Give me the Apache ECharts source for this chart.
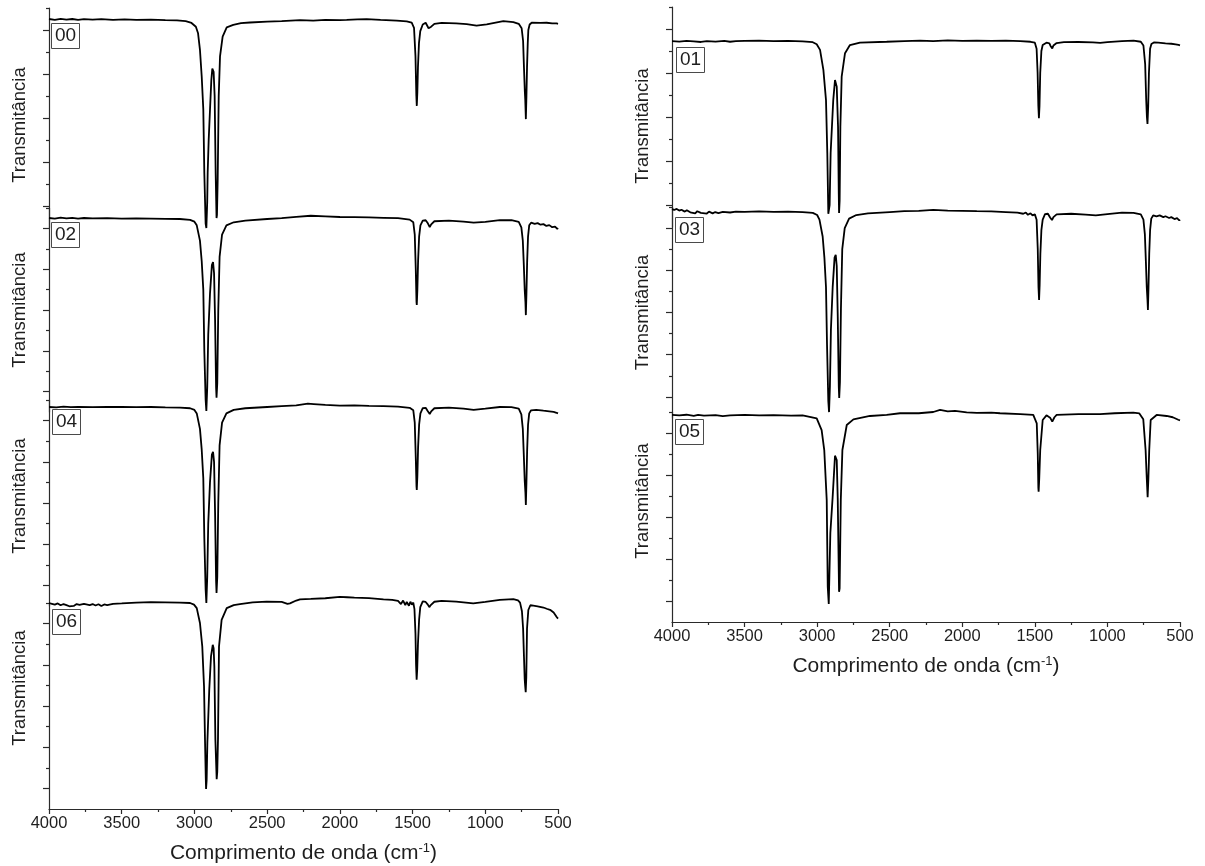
<!DOCTYPE html>
<html>
<head>
<meta charset="utf-8">
<title>FTIR</title>
<script src="https://cdn.jsdelivr.net/npm/echarts@6/dist/echarts.min.js"></script>
<style>
  html, body { margin: 0; padding: 0; background: #fff; }
  #chart { width: 1205px; height: 866px; }
</style>
</head>
<body>
<div id="chart"></div>
<script>
// FTIR spectra, [wavenumber (cm-1), relative transmittance] per sample.
// Transmittance is in arbitrary units (0 = bottom of a sample's panel, 100 = top).
const spec00 = [[4000,95.0],[3960,94.6],[3920,95.1],[3880,94.7],[3840,95.0],[3800,94.6],[3760,94.9],[3700,94.7],[3640,94.9],[3560,94.6],[3480,94.8],[3400,94.6],[3300,94.7],[3200,94.5],[3120,94.4],[3060,94.0],[3020,93.2],[2990,91.5],[2975,88.5],[2962,81],[2950,69],[2939,54],[2932,25],[2923,2],[2918,0],[2912,12],[2909,25],[2902,40],[2893,53.6],[2884,67],[2877,72.5],[2868,71],[2861,60],[2854,25],[2848,4.5],[2845,6],[2840,22],[2833,60],[2824,78],[2806,87],[2778,91.2],[2733,92.3],[2680,93.1],[2618,93.4],[2500,93.8],[2400,94.0],[2274,94.5],[2183,94.3],[2100,94.6],[2000,94.5],[1953,94.6],[1880,94.8],[1816,94.9],[1720,94.6],[1609,94.3],[1540,93.9],[1506,93.3],[1490,91],[1480,78],[1474,60],[1471,55.5],[1467,62],[1463,73],[1456,84],[1447,89.5],[1430,92.5],[1410,93.3],[1398,92.5],[1390,90.8],[1380,90.2],[1372,91.5],[1350,92.8],[1300,93.2],[1200,93.0],[1128,92.7],[1060,92.0],[990,92.6],[920,93.5],[876,94.0],[807,93.6],[770,92.8],[750,90.8],[740,85],[734,73],[728,62],[725,58],[721,49.5],[717,60],[713,73],[708,84],[704,90],[695,92.5],[681,93.3],[620,93.2],[578,93.3],[540,93.0],[509,93.0],[500,92.8]];

const spec01 = [[4000,84.5],[3950,84.3],[3900,84.6],[3850,84.4],[3800,84.1],[3760,84.5],[3700,84.3],[3640,84.6],[3600,84.2],[3560,84.5],[3500,84.6],[3400,84.7],[3300,84.5],[3200,84.6],[3100,84.4],[3030,84.0],[3003,83.1],[2980,80.5],[2957,71.4],[2939,57.7],[2930,33.6],[2923,6],[2918,6.4],[2914,10],[2907,33.6],[2889,57.7],[2877,66.8],[2865,63.8],[2856,45.6],[2851,15],[2849,6.4],[2845,12],[2840,45.6],[2831,68.3],[2808,79],[2774,82.7],[2705,83.8],[2521,84.2],[2400,84.5],[2291,84.7],[2200,84.5],[2100,84.8],[2000,84.6],[1900,84.7],[1800,84.6],[1700,84.7],[1600,84.5],[1530,84.2],[1500,83.8],[1488,81],[1481,70],[1476,55],[1472,49.5],[1468,55],[1463,70],[1455,80],[1446,82.7],[1420,83.8],[1400,83.5],[1392,82.3],[1380,81.2],[1372,82.5],[1350,83.6],[1300,84.0],[1200,84.1],[1100,83.9],[1050,83.7],[1000,84.0],[900,84.5],[820,84.7],[770,84.2],[752,82.5],[740,74],[733,58],[728,50],[724,46.8],[719,55],[714,70],[706,81],[697,83.2],[680,83.9],[650,83.8],[600,83.5],[560,83.3],[530,83.0],[510,82.8],[500,82.6]];

const spec02 = [[4000,95.1],[3960,94.8],[3920,95.3],[3880,94.9],[3840,95.2],[3800,94.8],[3760,95.1],[3700,94.9],[3600,95.0],[3500,94.8],[3400,94.9],[3300,94.8],[3200,94.7],[3100,94.6],[3030,94.2],[3000,93.3],[2984,91.5],[2962,84],[2950,74],[2939,60],[2932,30],[2923,6],[2918,0.5],[2912,12],[2905,38],[2893,58],[2880,72],[2872,73.5],[2865,68],[2858,45],[2851,12],[2848,7],[2843,14],[2836,50],[2827,76],[2810,87],[2780,91.5],[2730,93.0],[2650,93.8],[2500,94.6],[2400,95.0],[2300,95.6],[2200,96.2],[2100,95.9],[2000,95.6],[1900,95.5],[1800,95.4],[1700,95.2],[1600,95.0],[1520,94.3],[1495,93],[1485,87],[1478,70],[1473,54],[1471,52.5],[1467,60],[1462,74],[1455,86],[1446,91.5],[1430,93.8],[1410,94],[1395,92.5],[1382,90.7],[1372,92],[1350,93.5],[1250,93.8],[1150,93.3],[1080,92.8],[1000,93.2],[900,94.1],[820,94.0],[770,93.2],[752,90.5],[742,84],[735,72],[729,60],[724,54],[721,47.5],[717,58],[712,74],[706,86],[698,91.5],[685,92.8],[660,92.2],[640,92.6],[620,91.8],[600,92.1],[580,91.2],[560,91.6],[540,90.6],[520,90.9],[505,89.8],[500,90.2]];

const spec03 = [[4000,99.0],[3985,98.6],[3968,99.1],[3950,98.3],[3935,98.7],[3912,97.8],[3898,98.5],[3874,97.5],[3862,98.2],[3840,97.0],[3826,98.0],[3801,97.2],[3788,97.9],[3760,96.9],[3745,97.8],[3720,97.0],[3702,97.6],[3680,97.1],[3650,97.7],[3600,97.4],[3560,97.8],[3500,97.7],[3400,97.9],[3300,97.7],[3200,97.8],[3100,97.6],[3030,97.2],[3000,96.2],[2984,94.0],[2962,86],[2950,76],[2939,62],[2932,35],[2923,8],[2918,2.8],[2912,15],[2905,42],[2893,62],[2880,76],[2872,77.3],[2865,72],[2858,48],[2851,15],[2848,9.5],[2843,17],[2836,52],[2827,80],[2810,90],[2780,94.5],[2730,96.2],[2650,97.0],[2500,97.6],[2400,98.0],[2300,98.2],[2200,98.6],[2100,98.3],[2000,98.2],[1900,98.0],[1800,97.9],[1700,97.6],[1620,97.3],[1580,96.8],[1562,97.4],[1548,96.3],[1530,97.0],[1516,96.0],[1500,96.5],[1488,94],[1480,80],[1475,62],[1471,55.9],[1467,63],[1462,78],[1455,89],[1446,94],[1430,96.6],[1410,96.8],[1395,95.0],[1382,93.8],[1372,95.2],[1350,96.5],[1250,96.8],[1150,96.4],[1080,96.0],[1000,96.6],[900,97.3],[820,97.2],[770,96.5],[752,94],[742,87],[735,74],[729,62],[724,56],[721,51.2],[717,62],[712,78],[706,89],[698,94.5],[685,96],[662,95.6],[640,96.0],[615,95.2],[600,95.6],[575,94.8],[560,95.2],[538,94.3],[520,94.7],[505,93.6],[500,94.0]];

const spec04 = [[4000,96.6],[3950,96.4],[3900,96.8],[3850,96.5],[3800,96.7],[3700,96.5],[3600,96.6],[3500,96.7],[3400,96.5],[3300,96.6],[3200,96.4],[3100,96.3],[3030,96.0],[3000,95.2],[2984,93.5],[2962,86],[2950,76],[2939,62],[2932,33],[2923,8],[2918,1.5],[2912,14],[2905,40],[2893,60],[2880,73.5],[2872,74.8],[2865,70],[2858,45],[2851,12],[2848,6.3],[2843,14],[2836,50],[2827,78],[2810,89],[2780,93.5],[2730,95.2],[2650,96.0],[2500,96.6],[2400,97.0],[2300,97.4],[2220,98.2],[2180,98.0],[2100,97.6],[2000,97.3],[1900,97.4],[1800,97.1],[1700,97.0],[1600,96.8],[1520,96.2],[1495,95],[1485,89],[1478,72],[1473,58],[1471,56.3],[1467,63],[1462,77],[1455,88],[1446,93.5],[1430,96],[1410,96.2],[1395,94.5],[1382,93.2],[1372,94.5],[1350,96],[1250,96.3],[1150,95.8],[1080,95.2],[1000,95.8],[900,96.6],[820,96.5],[770,95.8],[752,93],[742,86],[735,73],[729,61],[724,55],[721,49],[717,60],[712,76],[706,88],[698,93.5],[685,95],[650,95.2],[600,94.8],[560,94.5],[530,94.2],[510,93.8],[500,93.5]];

const spec05 = [[4000,98.6],[3950,98.4],[3900,98.7],[3850,98.2],[3820,98.6],[3780,98.3],[3700,98.5],[3650,98.0],[3600,98.4],[3500,98.6],[3400,98.4],[3300,98.5],[3180,98.3],[3100,98.4],[3003,97.0],[2969,91.4],[2951,81.9],[2934,58.1],[2927,16.8],[2920,8.6],[2918,8.9],[2909,42.4],[2893,59.7],[2877,79.2],[2865,77.1],[2858,58.1],[2849,14.4],[2845,16],[2837,58.1],[2826,81.9],[2796,93.8],[2750,96.5],[2636,98.1],[2521,98.6],[2429,99.4],[2300,99.4],[2200,100],[2153,101.0],[2100,100.3],[2050,100.5],[1970,99.8],[1900,99.6],[1800,99.7],[1740,99.4],[1600,99.0],[1511,98.6],[1487,94.6],[1480,80],[1476,64],[1474,62.0],[1470,68],[1463,81.9],[1446,96.2],[1420,98.4],[1408,98.6],[1395,97.3],[1380,95.4],[1365,97.5],[1350,98.6],[1200,99.0],[1051,99.0],[950,99.4],[822,99.7],[780,99.3],[753,96.5],[737,81.9],[730,70],[723,59.4],[718,68],[712,81.9],[702,96.2],[661,98.6],[592,98.1],[550,97.5],[512,96.3],[500,96.0]];

const spec06 = [[4000,100],[3980,99.6],[3960,99.2],[3940,99.8],[3920,98.9],[3900,99.5],[3880,99.0],[3860,98.4],[3850,99.3],[3830,98.6],[3810,99.5],[3790,99.1],[3760,99.6],[3720,99.0],[3700,99.5],[3680,98.8],[3660,99.4],[3640,98.5],[3620,99.3],[3600,99.0],[3560,99.6],[3500,99.8],[3400,100.2],[3300,100.4],[3200,100.3],[3100,100.2],[3030,100],[3003,99.2],[2984,97.5],[2962,90.3],[2946,78.9],[2934,59.6],[2927,32.4],[2922,15],[2920,9.7],[2916,14],[2911,32.4],[2898,58],[2886,74.1],[2874,79.7],[2868,78],[2863,69.2],[2856,33.8],[2847,14.5],[2843,18],[2838,33.8],[2831,78.9],[2813,91.8],[2778,97.5],[2730,99.0],[2687,99.5],[2600,100.3],[2503,100.7],[2400,100.5],[2360,99.6],[2343,99.8],[2300,101.2],[2274,101.8],[2200,102.0],[2100,102.3],[2000,103.0],[1950,102.8],[1900,102.6],[1800,102.4],[1700,101.8],[1640,101.5],[1600,101.0],[1580,99.5],[1565,101.2],[1550,99],[1540,100.5],[1525,98.7],[1515,100.6],[1505,99.2],[1495,100.2],[1487,97],[1480,85],[1476,70],[1472,62.8],[1468,68],[1463,80],[1455,92],[1447,98],[1430,100.8],[1410,100.5],[1395,99.2],[1385,98.0],[1375,99.0],[1350,100.6],[1300,101.0],[1200,100.7],[1083,99.8],[1000,100.5],[900,101.5],[807,101.9],[775,101.3],[761,100.2],[748,96],[740,87.6],[734,74],[729,63],[726,60],[722,56.7],[718,64],[713,87.6],[704,96.6],[690,98.9],[670,98.7],[640,98.4],[600,97.8],[578,97.2],[550,96.5],[530,95.4],[520,94.5],[509,93.2],[500,92.4]];

// wavenumber axis ticks
const xMin = 500, xMax = 4000, xStep = 500;
// y-axis tick values (no labels are shown)
const yMajorTicks = [10, 30, 50, 70, 90];
const yMinorTicks = [20, 40, 60, 80, 100];

const sampleNames = ['00', '01', '02', '03', '04', '05', '06'];
const sampleData = [spec00, spec01, spec02, spec03, spec04, spec05, spec06];

// panel layout: column 0 (left) or 1 (right), vertical extent in px, label box position
const layout = {
  '00': { col: 0, top: 8,   h: 220, bottom: false, nameShift: -14, box: [51, 23] },
  '02': { col: 0, top: 208, h: 204, bottom: false, nameShift: 0,   box: [51, 222] },
  '04': { col: 0, top: 400, h: 206, bottom: false, nameShift: 14,  box: [52, 409] },
  '06': { col: 0, top: 603, h: 207, bottom: true,  nameShift: 36,  box: [52, 609] },
  '01': { col: 1, top: 7,   h: 220, bottom: false, nameShift: -18, box: [676, 47] },
  '03': { col: 1, top: 207, h: 211, bottom: false, nameShift: 0,   box: [675, 217] },
  '05': { col: 1, top: 412, h: 210, bottom: true,  nameShift: 32,  box: [675, 419] }
};
const colX = [{ left: 49, width: 509 }, { left: 672, width: 508 }];

const FONT = '"Liberation Sans", Arial, sans-serif';
const TXT = '#1e1e1e';
const AX = '#2a2a2a';

const grid = [], xAxis = [], yAxis = [], series = [], title = [];

sampleNames.forEach((name, i) => {
  const L = layout[name];
  const c = colX[L.col];
  grid.push({ left: c.left, width: c.width, top: L.top, height: L.h, containLabel: false });

  xAxis.push({
    gridIndex: i, type: 'value', min: xMin, max: xMax, interval: xStep, inverse: true,
    show: L.bottom,
    position: 'bottom',
    splitLine: { show: false },
    axisLine: { show: true, onZero: false, lineStyle: { color: AX, width: 1.2 } },
    axisTick: { show: true, length: 5, lineStyle: { color: AX, width: 1.2 } },
    minorTick: { show: true, splitNumber: 2, length: 3, lineStyle: { color: AX, width: 1.2 } },
    axisLabel: { show: true, color: TXT, fontFamily: FONT, fontSize: 16.5, margin: 6,
                 formatter: v => String(v) },
    name: 'Comprimento de onda (cm{sup|-1})',
    nameLocation: 'middle', nameGap: 33,
    nameTextStyle: {
      color: TXT, fontFamily: FONT, fontSize: 21, lineHeight: 23,
      rich: { sup: { fontSize: 13, lineHeight: 13, verticalAlign: 'top', color: TXT, fontFamily: FONT } }
    }
  });

  // major ticks + axis line + name
  const pad = L.nameShift >= 0 ? [0, 0, 0, L.nameShift] : [0, -L.nameShift, 0, 0];
  yAxis.push({
    gridIndex: i, type: 'value', min: 0, max: 100, position: 'left',
    splitLine: { show: false },
    axisLine: { show: true, onZero: false, lineStyle: { color: AX, width: 1.2 } },
    axisTick: { show: true, length: 6, customValues: yMajorTicks, lineStyle: { color: AX, width: 1.2 } },
    axisLabel: { show: false },
    name: 'Transmitância', nameLocation: 'middle', nameGap: 20,
    nameTextStyle: { color: TXT, fontFamily: FONT, fontSize: 18.5, padding: pad }
  });
  // minor ticks
  yAxis.push({
    gridIndex: i, type: 'value', min: 0, max: 100, position: 'left',
    splitLine: { show: false },
    axisLine: { show: false },
    axisTick: { show: true, length: 3, customValues: yMinorTicks, lineStyle: { color: AX, width: 1.2 } },
    axisLabel: { show: false }
  });

  series.push({
    type: 'line', name: name, data: sampleData[i],
    xAxisIndex: i, yAxisIndex: 2 * i,
    showSymbol: false, symbol: 'none', clip: false, smooth: false,
    lineStyle: { color: '#000', width: 1.8 },
    z: 3
  });

  title.push({
    text: name, left: L.box[0], top: L.box[1],
    padding: [2, 4], borderWidth: 1, borderColor: '#4a4a4a', backgroundColor: '#fff',
    textStyle: { color: TXT, fontFamily: FONT, fontSize: 19, fontWeight: 'normal', lineHeight: 22 }
  });
});

const chart = echarts.init(document.getElementById('chart'), null, { renderer: 'canvas' });
chart.setOption({
  backgroundColor: '#fff',
  animation: false,
  title, grid, xAxis, yAxis, series
});
</script>
</body>
</html>
